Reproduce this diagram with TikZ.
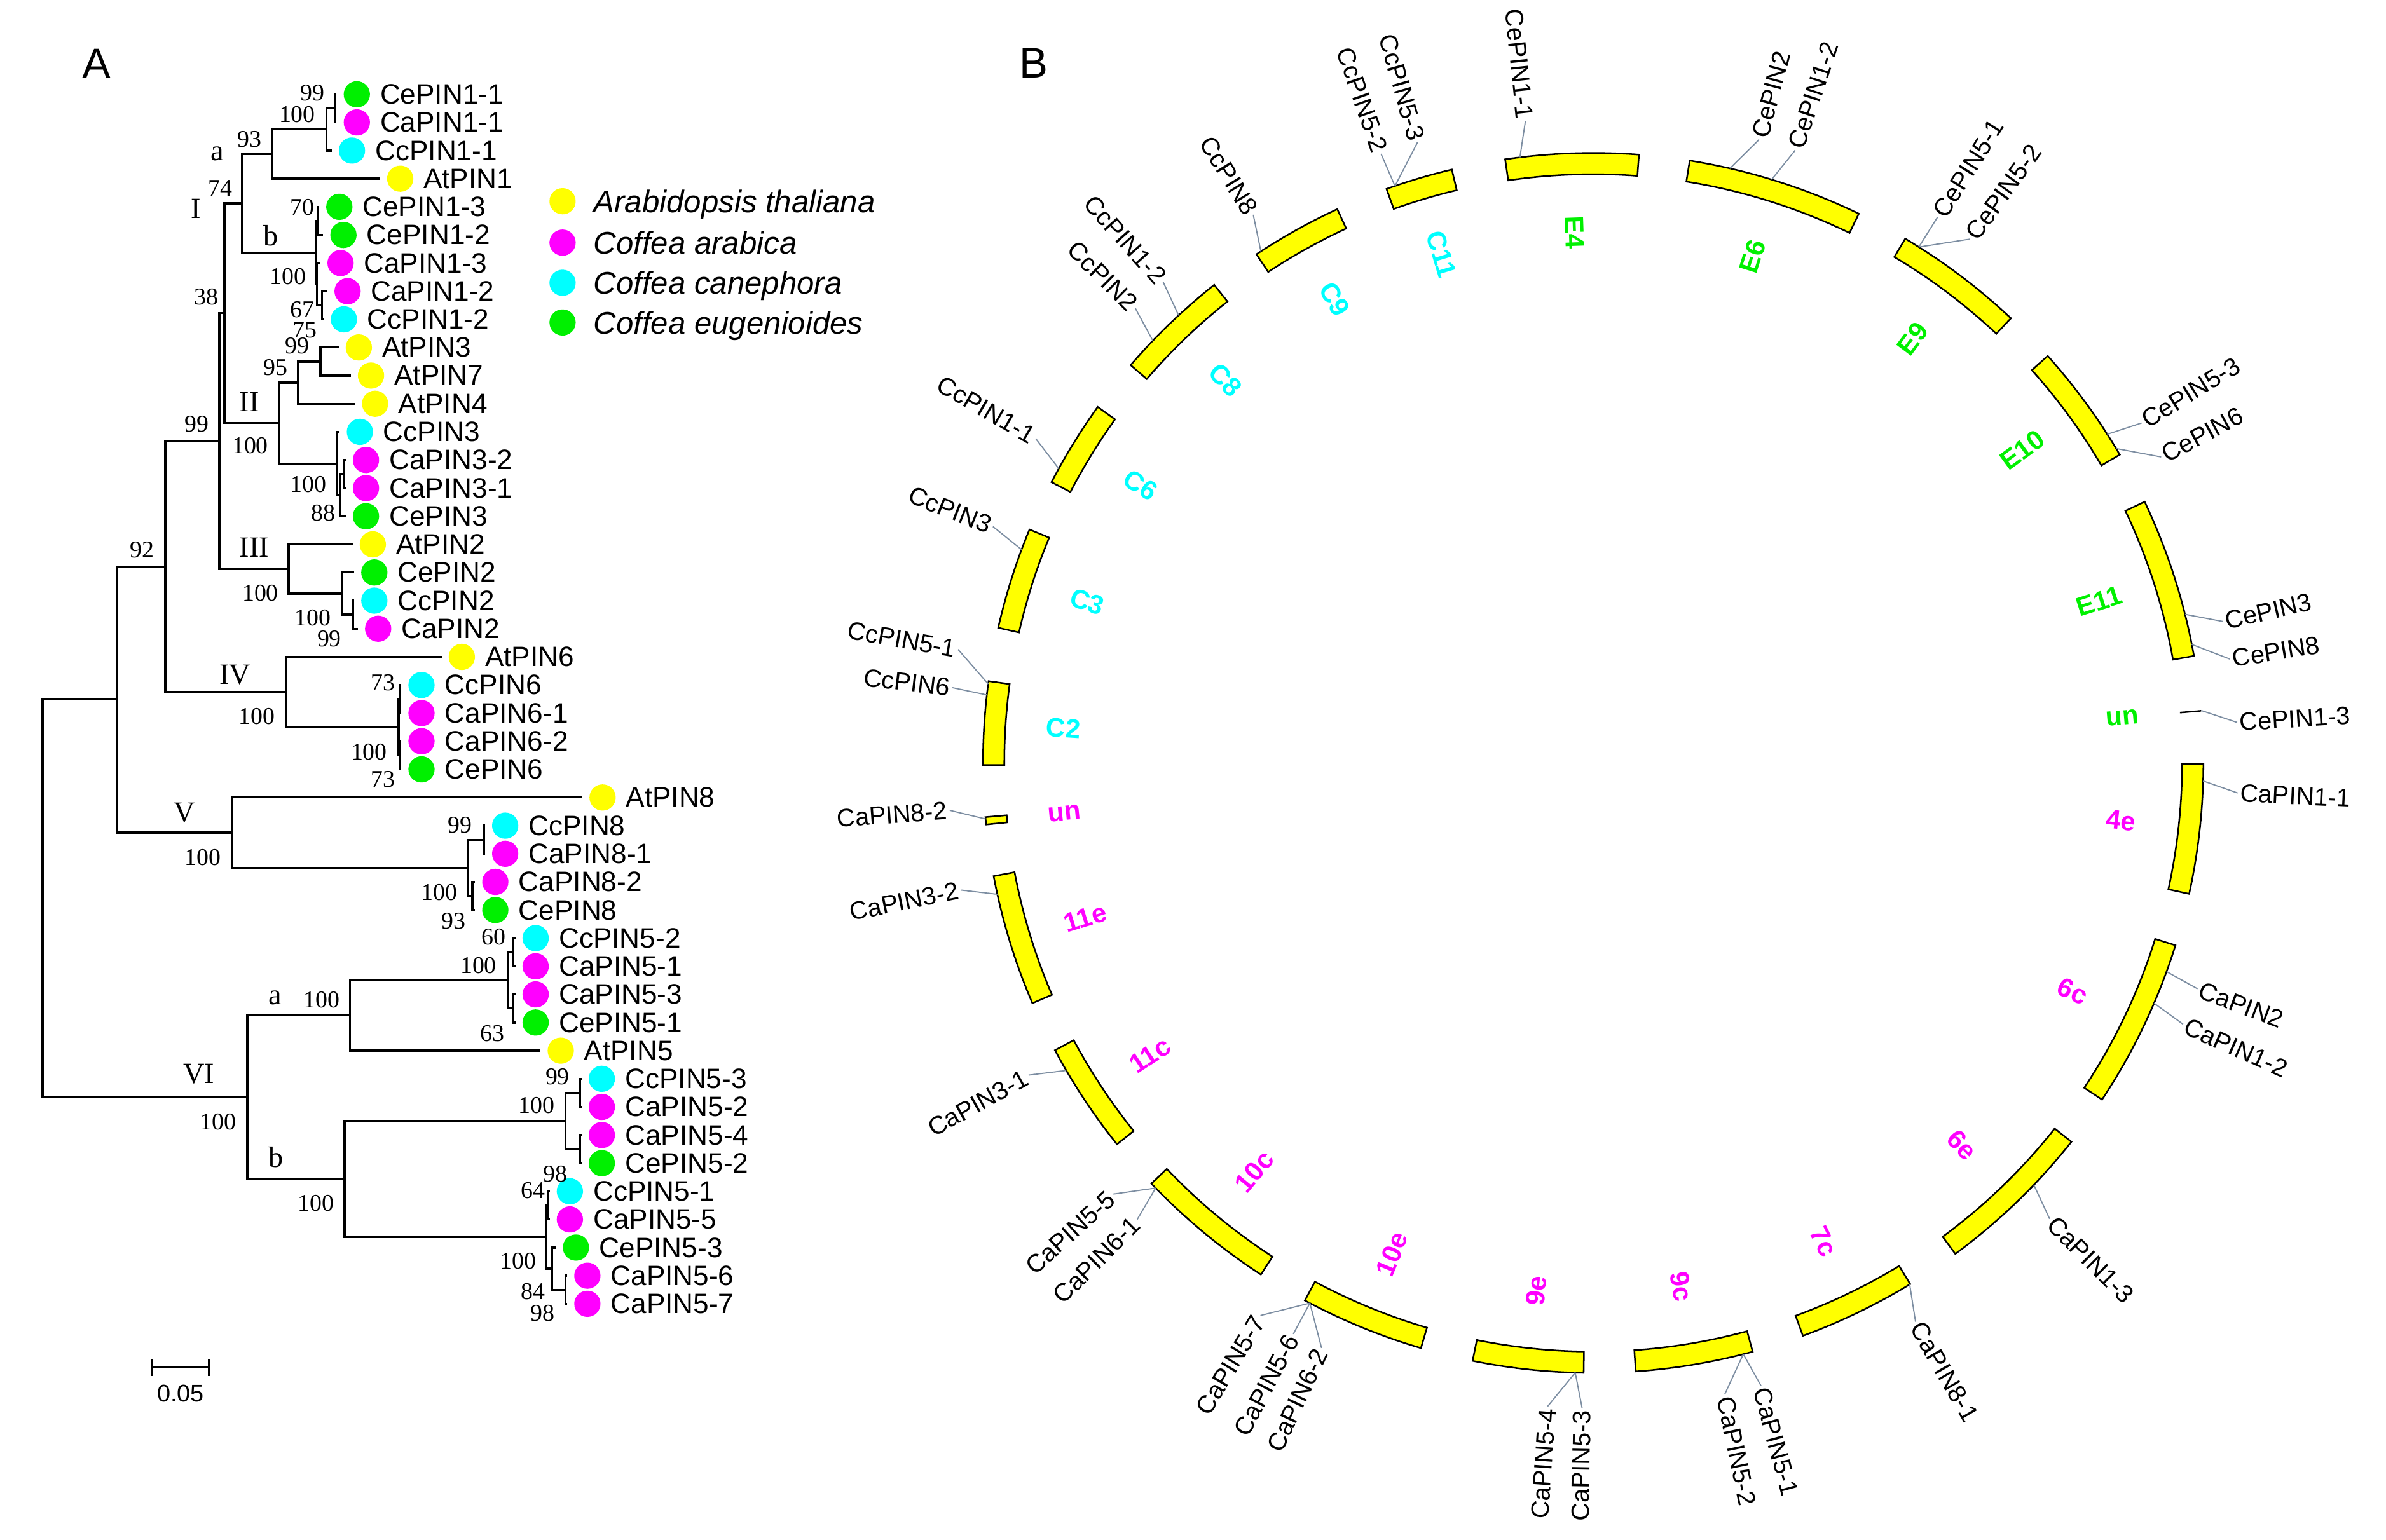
\documentclass[tikz,border=0pt]{standalone}
\usepackage{fontspec}
\setmainfont{Liberation Serif}
\setsansfont{Liberation Sans}
\usepackage{xcolor}
\usetikzlibrary{calc}
\definecolor{spAt}{RGB}{255,255,0}
\definecolor{spCa}{RGB}{255,0,255}
\definecolor{spCc}{RGB}{0,255,255}
\definecolor{spCe}{RGB}{0,240,0}
\definecolor{linkgray}{RGB}{125,142,162}
\tikzset{
  branch/.style={line width=0.8pt, line cap=rect},
  spdot/.style={circle, inner sep=0pt, minimum size=3.45mm},
  leaflab/.style={font=\sffamily\fontsize{10.5}{12}\selectfont, anchor=west, inner sep=0pt},
  keylab/.style={font=\sffamily\itshape\fontsize{11.7}{13}\selectfont, anchor=west, inner sep=0pt, text height=8.4pt, text depth=0pt},
  boot/.style={font=\rmfamily\fontsize{9}{10}\selectfont, inner sep=0pt},
  cladelab/.style={font=\rmfamily\fontsize{11}{12}\selectfont, inner sep=0pt},
  chrom/.style={draw=black, fill=spAt, line width=0.6pt},
  chrlab/.style={font=\sffamily\bfseries\fontsize{10}{11}\selectfont, inner sep=0pt},
  genelab/.style={font=\sffamily\fontsize{9.4}{11}\selectfont, inner sep=0.8pt},
  link/.style={draw=linkgray, line width=0.45pt},
  panel/.style={font=\sffamily\fontsize{16}{18}\selectfont, inner sep=0pt}
}
% rotation and anchor of a text that runs along the radius at angle #1
\newcommand\radset[1]{%
  \pgfmathsetmacro\lrot{-#1}\def\lanc{west}%
  \ifdim#1pt>90pt\ifdim#1pt<270pt\pgfmathsetmacro\lrot{180-#1}\def\lanc{east}\fi\fi}

\begin{document}
\begin{tikzpicture}[x=0.2mm, y=-0.2mm]
\useasboundingbox (0,0) rectangle (1568,1012);

\node[panel] (pa) at (63.3,41.9) {A};
\node[panel] (pb) at (679.3,41.5) {B};

% leaves of the tree
\foreach \nm/\cx/\col [count=\i from 0] in {CePIN1-1/234.5/spCe, CaPIN1-1/234.5/spCa, CcPIN1-1/231.3/spCc, AtPIN1/263/spAt,
  CePIN1-3/223/spCe, CePIN1-2/225.7/spCe, CaPIN1-3/223.8/spCa, CaPIN1-2/228.4/spCa, CcPIN1-2/226/spCc,
  AtPIN3/235.8/spAt, AtPIN7/243.8/spAt, AtPIN4/246.5/spAt, CcPIN3/236.5/spCc, CaPIN3-2/240.5/spCa,
  CaPIN3-1/240.5/spCa, CePIN3/240.5/spCe, AtPIN2/245/spAt, CePIN2/246/spCe, CcPIN2/246/spCc,
  CaPIN2/248.5/spCa, AtPIN6/303.5/spAt, CcPIN6/277/spCc, CaPIN6-1/277/spCa, CaPIN6-2/277/spCa,
  CePIN6/277/spCe, AtPIN8/396/spAt, CcPIN8/332/spCc, CaPIN8-1/332/spCa, CaPIN8-2/325.5/spCa,
  CePIN8/325.5/spCe, CcPIN5-2/352/spCc, CaPIN5-1/352/spCa, CaPIN5-3/352/spCa, CePIN5-1/352/spCe,
  AtPIN5/368.5/spAt, CcPIN5-3/395.5/spCc, CaPIN5-2/395.5/spCa, CaPIN5-4/395.5/spCa, CePIN5-2/395.5/spCe,
  CcPIN5-1/374.5/spCc, CaPIN5-5/374.5/spCa, CePIN5-3/378.5/spCe, CaPIN5-6/386/spCa, CaPIN5-7/386/spCa}{
  \pgfmathsetmacro\ly{62+18.49*\i}
  \pgfmathsetmacro\lx{\cx-14}
  \pgfmathsetmacro\tx{\cx+15}
  \coordinate (t\i) at (\lx,\ly);
  \node[spdot, fill=\col] (d\i) at (\cx,\ly) {};
  \node[leaflab] (l\i) at (\tx,\ly) {\nm};
}

% inner nodes
\coordinate (n11a) at (220.3,71.25);
\coordinate (n11) at (214.5,85.11);
\coordinate (na) at (179.1,101.29);
\coordinate (nb1) at (208.6,145.2);
\coordinate (nb2) at (211.6,200.68);
\coordinate (nb3) at (208.3,186.81);
\coordinate (nb) at (207.6,166.0);
\coordinate (nI) at (159.1,133.65);
\coordinate (n99b) at (210.5,237.66);
\coordinate (n95) at (195.8,251.52);
\coordinate (nA) at (226,311.62);
\coordinate (nB) at (223.8,325.48);
\coordinate (nC) at (221.7,304.68);
\coordinate (nII) at (183.3,278.1);
\coordinate (n38) at (147.5,205.88);
\coordinate (nC2a) at (231.8,404.07);
\coordinate (nC2) at (225.1,390.2);
\coordinate (nIII) at (189.7,374.02);
\coordinate (nX) at (144.2,289.95);
\coordinate (n6a) at (262.5,459.54);
\coordinate (n6b) at (262.5,496.52);
\coordinate (n6) at (262,478.03);
\coordinate (nIV) at (187.8,454.92);
\coordinate (n99) at (108.7,372.44);
\coordinate (n8a) at (318,551.99);
\coordinate (n8b) at (310.4,588.97);
\coordinate (n8) at (307.2,570.48);
\coordinate (nV) at (152.4,547.37);
\coordinate (n92) at (76.7,459.9);
\coordinate (n5a1) at (337,625.95);
\coordinate (n5a2) at (337,662.93);
\coordinate (n5a) at (333.6,644.44);
\coordinate (nVIa) at (229.9,667.55);
\coordinate (n5b1) at (381.3,718.4);
\coordinate (n5b2) at (381,755.38);
\coordinate (n5b) at (371.7,736.89);
\coordinate (n5c1) at (360.2,792.36);
\coordinate (n5c2) at (371.7,847.83);
\coordinate (n5c3) at (362.9,833.96);
\coordinate (n5c) at (359.2,813.16);
\coordinate (nVIb) at (226.5,775.03);
\coordinate (nVI) at (162.5,721.29);
\coordinate (root) at (28,590.6);

\foreach \p/\c in {n11a/t0, n11a/t1, n11/n11a, n11/t2, na/n11, na/t3, nb1/t4, nb1/t5, nb2/t7, nb2/t8,
  nb3/t6, nb3/nb2, nb/nb1, nb/nb3, nI/na, nI/nb, n99b/t9, n99b/t10, n95/n99b, n95/t11, nA/t13, nA/t14,
  nB/nA, nB/t15, nC/t12, nC/nB, nII/n95, nII/nC, n38/nI, n38/nII, nC2a/t18, nC2a/t19, nC2/t17, nC2/nC2a,
  nIII/t16, nIII/nC2, nX/n38, nX/nIII, n6a/t21, n6a/t22, n6b/t23, n6b/t24, n6/n6a, n6/n6b, nIV/t20, nIV/n6,
  n99/nX, n99/nIV, n8a/t26, n8a/t27, n8b/t28, n8b/t29, n8/n8a, n8/n8b, nV/t25, nV/n8, n92/n99, n92/nV,
  n5a1/t30, n5a1/t31, n5a2/t32, n5a2/t33, n5a/n5a1, n5a/n5a2, nVIa/n5a, nVIa/t34, n5b1/t35, n5b1/t36,
  n5b2/t37, n5b2/t38, n5b/n5b1, n5b/n5b2, n5c1/t39, n5c1/t40, n5c2/t42, n5c2/t43, n5c3/t41, n5c3/n5c2,
  n5c/n5c1, n5c/n5c3, nVIb/n5b, nVIb/n5c, nVI/nVIa, nVI/nVIb, root/n92, root/nVI}
  \draw[branch] (\p) |- (\c);

% bootstrap values
\foreach \v/\x/\y [count=\k] in {99/205.2/60.9, 100/195.3/75.1, 93/163.9/91.5, 74/144.7/123.5, 70/198.5/136.2,
  100/189.2/181.8, 38/135.4/195.2, 67/198.5/203.4, 75/200.4/216.8, 99/195.3/227.3, 95/181.2/241.4,
  99/129.2/278.6, 100/164.4/293.0, 100/202.5/318.4, 88/212.4/337.4, 92/93.3/361.5, 100/171.1/389.9,
  100/205.7/406.3, 99/216.4/419.9, 73/251.8/448.9, 100/168.7/471, 100/242.5/494.2, 73/251.8/512.4,
  100/133.2/563.8, 99/302.4/542.4, 100/288.6/586.7, 93/297.9/605.3, 60/324.5/615.9, 100/314.4/634.6,
  100/211.3/657.4, 63/323.7/679.3, 99/366.4/707.8, 100/143.4/737.5, 100/352.5/726.6, 98/365/771.6,
  64/350.4/782.7, 100/207.8/791, 100/340.5/829, 84/350.4/849.2, 98/356.5/863.1}
  \node[boot] (bs\k) at (\x,\y) {\v};

\foreach \v/\x/\y [count=\k] in {a/142.6/101.2, I/128.7/137, b/178/154.9, II/163.9/264.1, III/167.1/360,
  IV/154.5/443.4, V/121.2/534.1, a/180.7/656, VI/130.6/705.9, b/181.2/760.5}
  \node[cladelab] (cl\k) at (\x,\y) {\v};

% scale bar
\coordinate (sb1) at (99.9,899);
\coordinate (sb2) at (137.2,899);
\draw[branch] (sb1) -- (sb2);
\draw[branch] ($(sb1)+(0,-5)$) -- ($(sb1)+(0,5)$);
\draw[branch] ($(sb2)+(0,-5)$) -- ($(sb2)+(0,5)$);
\node[font=\sffamily\fontsize{9}{10}\selectfont, inner sep=0pt] (sbl) at (118.6,915.9) {0.05};

% species key
\foreach \nm/\col/\y [count=\k] in {Arabidopsis thaliana/spAt/132.3, Coffea arabica/spCa/159.5,
  Coffea canephora/spCc/185.9, Coffea eugenioides/spCe/212}{
  \node[spdot, fill=\col] (key\k) at (369.7,\y) {};
  \node[keylab] (keytxt\k) at (389.7,\y) {\nm};
}

% chromosome circle
\begin{scope}[shift={(1047,501.5)}]
\foreach \a/\b/\nm/\col in {261.7/274.3/E4/spCe, 279.1/295.8/E6/spCe, 300.75/313.2/E9/spCe,
  318.15/329.65/E10/spCe, 334.65/349.9/E11/spCe, 0.1/12.4/4e/spCa, 17.4/33.5/6c/spCa,
  38.4/53.6/6e/spCa, 58.7/69.9/7c/spCa, 74.85/86/9c/spCa, 90.9/101.4/9e/spCa, 106.4/118.2/10e/spCa,
  123/136.4/10c/spCa, 141.3/151.9/11c/spCa, 156.8/169.3/11e/spCa, 174.2/174.9/un/spCa,
  179.8/187.7/C2/spCc, 192.8/202.5/C3/spCc, 207.4/215.7/C6/spCc, 220.7/231.6/C8/spCc,
  236.5/245.2/C9/spCc, 250.2/256.6/C11/spCc}{
  \draw[chrom] (\a:401) arc[start angle=\a, end angle=\b, radius=401] -- (\b:387)
    arc[start angle=\b, end angle=\a, radius=387] -- cycle;
  \pgfmathsetmacro\m{(\a+\b)/2}
  \radset{\m}
  \node[chrlab, text=\col, rotate=\lrot] (ch\nm) at (\m:349) {\nm};
}
\draw[line width=0.6pt] (355.1:387) -- (355.1:401);
\radset{355.1}
\node[chrlab, text=spCe, rotate=\lrot] (chune) at (355.1:349) {un};

\foreach \nm/\f/\g [count=\i] in {CePIN1-1/263.1/263.96, CcPIN5-3/251.04/254.2, CcPIN5-2/251.04/250.8,
  CcPIN8/237/238.2, CcPIN1-2/227.2/228.2, CcPIN2/223.8/224.8, CcPIN1-1/208.85/210.2,
  CcPIN3/200.47/201.5, CcPIN5-1/187.44/190.13, CcPIN6/186.4/186.7, CaPIN8-2/174.72/175.78,
  CaPIN3-2/167.56/168.63, CaPIN3-1/149.72/151.05, CaPIN5-5/135.82/138.05, CaPIN6-1/135.82/134.96,
  CaPIN5-7/117.67/121.05, CaPIN5-6/117.67/117.7, CaPIN6-2/117.67/114.9, CaPIN5-4/91.69/94.05,
  CaPIN5-3/91.69/90.99, CaPIN5-2/75.76/78.24, CaPIN5-1/75.76/74.93, CaPIN8-1/58.76/60.03,
  CaPIN1-3/43.77/44.98, CaPIN1-2/23.2/23.9, CaPIN2/20.01/20.5, CaPIN1-1/1.7/2.68,
  CePIN1-3/355.07/356.4, CePIN8/348.8/350.74, CePIN3/345.9/347.33, CePIN6/328.98/331.68,
  CePIN5-3/327.4/328.2, CePIN5-2/302.25/305.7, CePIN5-1/302.25/302.24, CePIN1-2/287/288.24,
  CePIN2/282.94/284.9}{
  \coordinate (ga\i) at (\f:401);
  \coordinate (gl\i) at (\g:424);
  \draw[link] (ga\i) -- (gl\i);
  \radset{\g}
  \node[genelab, anchor=\lanc, rotate=\lrot] (g\i) at (gl\i) {\nm};
}
\end{scope}
\end{tikzpicture}
\end{document}
